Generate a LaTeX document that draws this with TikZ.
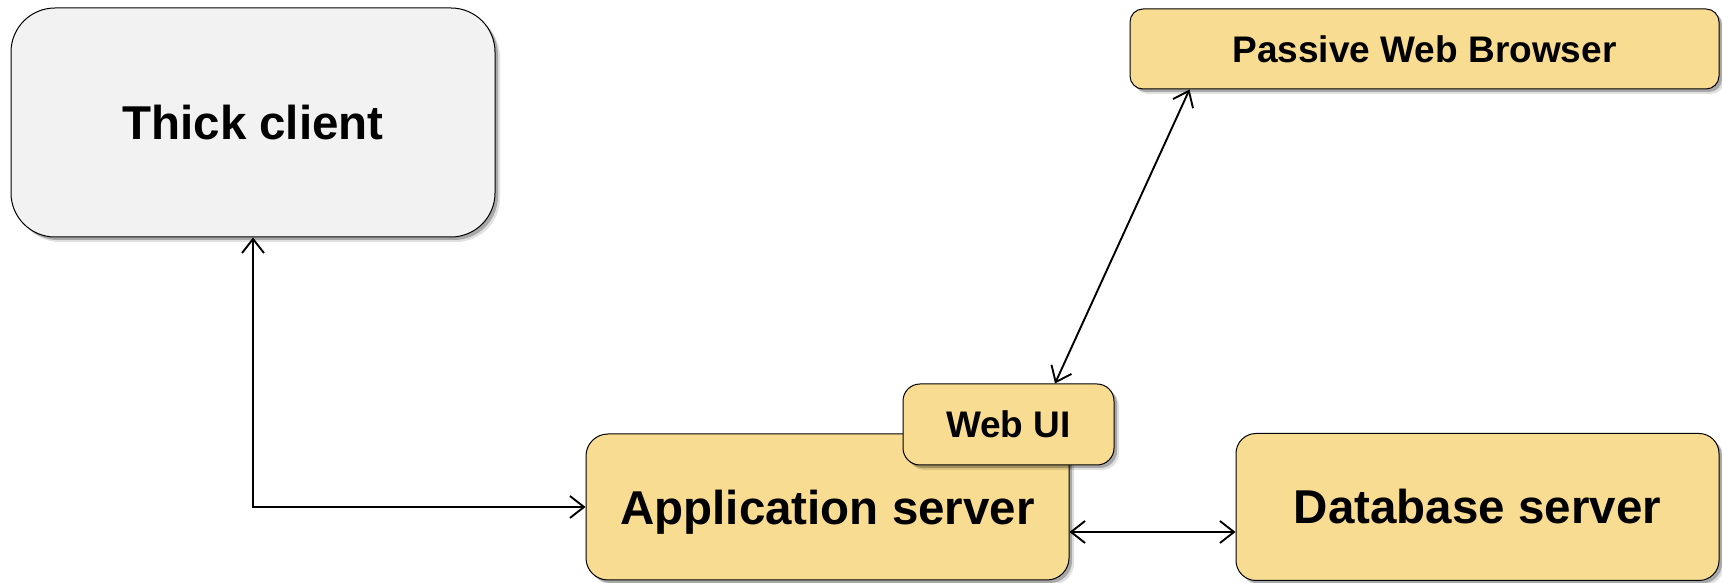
\documentclass[tikz,border=0pt]{standalone}
\usepackage{fontspec}
\setmainfont{Liberation Sans}
\usetikzlibrary{arrows.meta, positioning, shadows}

\definecolor{boxyellow}{RGB}{248,220,146}
\definecolor{boxgrey}{RGB}{242,242,242}

\tikzset{
  tier/.style={draw=black, line width=1pt, align=center, inner sep=0pt,
    font=\fontsize{47.5}{57}\selectfont\bfseries,
    drop shadow={shadow xshift=5pt, shadow yshift=-5pt, fill=black, opacity=0.12},
    drop shadow={shadow xshift=3pt, shadow yshift=-3pt, fill=black, opacity=0.25}},
  smalltier/.style={tier, font=\fontsize{37}{44}\selectfont\bfseries},
  link/.style={line width=1.9pt, {Straight Barb[length=14pt,width=22pt]}-{Straight Barb[length=14pt,width=22pt]}}
}

\begin{document}
\begin{tikzpicture}[x=1pt, y=1pt]
\useasboundingbox (0,0) rectangle (1722,583);
% Client side
\node[tier, fill=boxgrey, rounded corners=44pt, minimum width=484pt, minimum height=229pt] (thick) at (253,460.5) {Thick client};
\node[smalltier, fill=boxyellow, rounded corners=13pt, minimum width=589pt, minimum height=80pt] (browser) at (1424.5,534) {Passive Web Browser};
% Server side
\node[tier, fill=boxyellow, rounded corners=22pt, minimum width=483pt, minimum height=146pt] (app) at (827.5,76) {\raisebox{-5pt}[\height][\depth]{Application server}};
\node[tier, fill=boxyellow, rounded corners=20pt, minimum width=483pt, minimum height=147pt] (db) at (1477.5,76) {Database server};
% Web UI sits on top of the application server
\node[smalltier, fill=boxyellow, rounded corners=17pt, minimum width=211pt, minimum height=81pt] (webui) at (1008.5,158.5) {Web UI};
% Connections
\draw[link] (thick.south) |- (app.west);
\draw[link] ([yshift=-25pt]app.east) -- ([yshift=-25pt]db.west);
\draw[link] ([xshift=60pt]browser.south west) -- ([xshift=46.5pt]webui.north);
\end{tikzpicture}
\end{document}
